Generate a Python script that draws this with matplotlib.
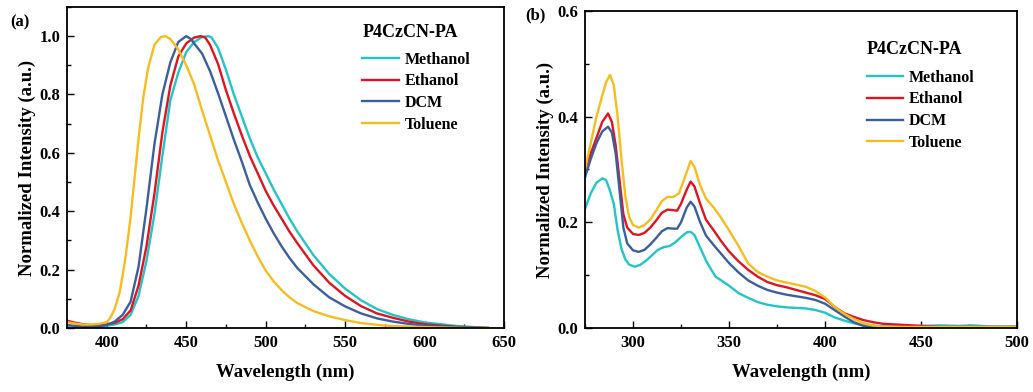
import numpy as np
import matplotlib
matplotlib.use("Agg")
from matplotlib import pyplot as plt
from matplotlib.ticker import MultipleLocator, FormatStrFormatter

plt.rcParams['font.family'] = ['Liberation Serif', 'DejaVu Serif']
plt.rcParams['font.weight'] = 'bold'

solvents = ['Methanol', 'Ethanol', 'DCM', 'Toluene']
colors = ['#22C4C8', '#E0141E', '#3B5E9E', '#F7BD1E']

# (a) photoluminescence
pl_methanol_x = [375, 385, 395, 400, 405, 410, 415, 420, 425, 430, 435, 440, 445, 450, 455, 460, 464, 466,
                 470, 475, 480, 485, 490, 495, 500, 505, 510, 515, 520, 530, 540, 550, 560, 570, 580, 590,
                 600, 620, 640]
pl_methanol_y = [0.005, 0.003, 0.004, 0.008, 0.012, 0.02, 0.045, 0.11, 0.23, 0.39, 0.59, 0.78, 0.875, 0.945,
                 0.98, 0.997, 1.0, 0.995, 0.96, 0.885, 0.80, 0.725, 0.65, 0.585, 0.53, 0.475, 0.425, 0.375,
                 0.33, 0.25, 0.185, 0.135, 0.095, 0.065, 0.045, 0.03, 0.019, 0.007, 0.0]

pl_ethanol_x = [375, 380, 385, 390, 395, 400, 405, 410, 415, 420, 425, 430, 435, 440, 445, 450, 455, 459,
                462, 465, 470, 475, 480, 485, 490, 495, 500, 505, 510, 515, 520, 530, 540, 550, 560, 570,
                580, 590, 600, 620, 640]
pl_ethanol_y = [0.025, 0.018, 0.013, 0.01, 0.01, 0.012, 0.018, 0.03, 0.06, 0.145, 0.28, 0.46, 0.67, 0.83,
                0.93, 0.975, 0.995, 1.0, 0.995, 0.97, 0.905, 0.815, 0.735, 0.66, 0.59, 0.53, 0.47, 0.42,
                0.375, 0.33, 0.29, 0.215, 0.155, 0.11, 0.075, 0.05, 0.035, 0.022, 0.013, 0.004, 0.0]

pl_dcm_x = [375, 385, 395, 400, 405, 410, 415, 420, 425, 430, 435, 440, 445, 450, 453, 455, 460, 465, 470,
            475, 480, 485, 490, 495, 500, 505, 510, 515, 520, 530, 540, 550, 560, 570, 580, 590, 600, 620,
            640]
pl_dcm_y = [0.01, 0.005, 0.006, 0.01, 0.022, 0.045, 0.09, 0.21, 0.41, 0.63, 0.80, 0.91, 0.98, 1.0, 0.99,
            0.975, 0.94, 0.88, 0.805, 0.725, 0.645, 0.57, 0.49, 0.43, 0.375, 0.325, 0.28, 0.24, 0.205,
            0.15, 0.105, 0.074, 0.05, 0.033, 0.022, 0.014, 0.008, 0.003, 0.0]

pl_toluene_x = [375, 380, 385, 390, 395, 400, 402, 405, 408, 410, 412, 415, 418, 420, 423, 426, 430, 434,
                437, 440, 445, 450, 455, 460, 465, 470, 475, 480, 485, 490, 495, 500, 505, 510, 515, 520,
                530, 540, 550, 560, 575, 600, 625, 640]
pl_toluene_y = [0.02, 0.015, 0.012, 0.012, 0.014, 0.02, 0.033, 0.065, 0.12, 0.18, 0.25, 0.38, 0.54, 0.65,
                0.79, 0.89, 0.97, 0.997, 1.0, 0.99, 0.955, 0.90, 0.835, 0.745, 0.66, 0.575, 0.50, 0.425,
                0.36, 0.30, 0.245, 0.197, 0.16, 0.13, 0.105, 0.085, 0.058, 0.04, 0.027, 0.017, 0.008,
                0.003, 0.0, 0.0]

# (b) absorption
abs_methanol_x = [275, 278, 281, 284, 286, 288, 290, 292, 294, 296, 298, 301, 304, 307, 310, 313, 316, 319,
                  322, 325, 328, 330, 332, 335, 338, 340, 343, 346, 350, 355, 360, 365, 370, 375, 380, 385,
                  390, 395, 400, 405, 410, 415, 420, 425, 430, 440, 450, 460, 470, 477, 485, 500]
abs_methanol_y = [0.225, 0.255, 0.275, 0.283, 0.28, 0.26, 0.235, 0.185, 0.15, 0.13, 0.12, 0.116, 0.12,
                  0.128, 0.138, 0.148, 0.153, 0.155, 0.162, 0.172, 0.181, 0.182, 0.176, 0.152, 0.128, 0.115,
                  0.097, 0.09, 0.08, 0.066, 0.057, 0.049, 0.044, 0.041, 0.039, 0.038, 0.037, 0.034, 0.029,
                  0.02, 0.014, 0.009, 0.005, 0.003, 0.003, 0.003, 0.004, 0.005, 0.004, 0.005, 0.003, 0.003]

abs_ethanol_x = [275, 278, 281, 284, 287, 289, 291, 293, 295, 297, 300, 303, 306, 309, 312, 315, 318, 321,
                 323, 325, 328, 330, 332, 335, 338, 342, 346, 350, 355, 360, 365, 370, 375, 380, 385, 390,
                 395, 400, 405, 410, 415, 420, 425, 430, 440, 450, 460, 500]
abs_ethanol_y = [0.30, 0.33, 0.36, 0.39, 0.406, 0.39, 0.345, 0.28, 0.215, 0.19, 0.178, 0.176, 0.18, 0.19,
                 0.203, 0.218, 0.224, 0.223, 0.222, 0.235, 0.262, 0.277, 0.268, 0.235, 0.205, 0.185, 0.164,
                 0.145, 0.126, 0.11, 0.097, 0.087, 0.081, 0.077, 0.072, 0.067, 0.062, 0.055, 0.04, 0.028,
                 0.021, 0.015, 0.011, 0.008, 0.006, 0.004, 0.002, 0.002]

abs_dcm_x = [275, 278, 281, 284, 287, 289, 291, 293, 295, 297, 300, 303, 306, 309, 312, 315, 318, 321, 323,
             325, 328, 330, 332, 335, 338, 342, 346, 350, 355, 360, 365, 370, 375, 380, 385, 390, 395, 400,
             405, 410, 415, 420, 425, 500]
abs_dcm_y = [0.285, 0.32, 0.35, 0.372, 0.381, 0.37, 0.33, 0.26, 0.19, 0.16, 0.147, 0.144, 0.148, 0.158,
             0.17, 0.183, 0.189, 0.188, 0.188, 0.2, 0.228, 0.239, 0.23, 0.2, 0.175, 0.157, 0.14, 0.123,
             0.105, 0.09, 0.08, 0.072, 0.067, 0.063, 0.06, 0.057, 0.053, 0.046, 0.034, 0.022, 0.011, 0.004,
             0.0, 0.0]

abs_toluene_x = [275, 278, 281, 284, 286, 288, 290, 292, 294, 296, 298, 300, 303, 306, 309, 312, 315, 318,
                 321, 324, 327, 330, 332, 335, 338, 342, 346, 350, 355, 360, 365, 370, 375, 380, 385, 390,
                 395, 400, 405, 410, 415, 420, 425, 430, 450, 475, 500]
abs_toluene_y = [0.30, 0.35, 0.40, 0.44, 0.465, 0.479, 0.46, 0.40, 0.32, 0.25, 0.21, 0.195, 0.19, 0.195,
                 0.205, 0.222, 0.24, 0.248, 0.248, 0.255, 0.285, 0.316, 0.305, 0.27, 0.245, 0.228, 0.208,
                 0.185, 0.155, 0.122, 0.106, 0.097, 0.09, 0.086, 0.082, 0.078, 0.07, 0.058, 0.04, 0.027,
                 0.017, 0.009, 0.005, 0.002, 0.002, 0.002, 0.002]

pl_data = [(pl_methanol_x, pl_methanol_y), (pl_ethanol_x, pl_ethanol_y),
           (pl_dcm_x, pl_dcm_y), (pl_toluene_x, pl_toluene_y)]
abs_data = [(abs_methanol_x, abs_methanol_y), (abs_ethanol_x, abs_ethanol_y),
            (abs_dcm_x, abs_dcm_y), (abs_toluene_x, abs_toluene_y)]

fig = plt.figure(figsize=(10.33, 3.92), dpi=100)
ax1 = fig.add_axes([0.0649, 0.1633, 0.4230, 0.8190])
ax2 = fig.add_axes([0.5663, 0.1633, 0.4182, 0.8087])


def style(ax, xlim, ylim, xmaj, xmin, ymaj, ymin):
    ax.set_xlim(*xlim)
    ax.set_ylim(*ylim)
    ax.xaxis.set_major_locator(MultipleLocator(xmaj))
    ax.xaxis.set_minor_locator(MultipleLocator(xmin))
    ax.yaxis.set_major_locator(MultipleLocator(ymaj))
    ax.yaxis.set_minor_locator(MultipleLocator(ymin))
    ax.yaxis.set_major_formatter(FormatStrFormatter('%.1f'))
    ax.tick_params(which='both', direction='in', top=False, right=False, width=1.0)
    ax.tick_params(which='major', length=5, labelsize=12, pad=5)
    ax.tick_params(which='minor', length=3)
    for s in ax.spines.values():
        s.set_linewidth(1.3)
    ax.set_xlabel('Wavelength (nm)', fontsize=13.5, fontweight='bold', labelpad=9)
    ax.set_ylabel('Normalized Intensity (a.u.)', fontsize=13.5, fontweight='bold', labelpad=2)
    for lab in ax.get_xticklabels() + ax.get_yticklabels():
        lab.set_fontweight('bold')


def legend_block(ax, x0, y_title, y_top):
    ax.text(x0, y_title, 'P4CzCN-PA', transform=ax.transAxes, fontsize=13, fontweight='bold',
            ha='left', va='center')
    ax.legend(loc='upper left', bbox_to_anchor=(x0 - 0.016, y_top), frameon=False,
              handlelength=2.3, handletextpad=0.35, labelspacing=0.36, borderaxespad=0,
              prop={'size': 11.5, 'weight': 'bold'})


for ax, data in [(ax1, pl_data), (ax2, abs_data)]:
    for (x, y), name, c in zip(data, solvents, colors):
        ax.plot(x, y, color=c, lw=1.7, label=name)

style(ax1, (375, 650), (0, 1.1), 50, 25, 0.2, 0.1)
style(ax2, (275, 500), (0, 0.6), 50, 25, 0.2, 0.1)

legend_block(ax1, 0.677, 0.919, 0.881)
legend_block(ax2, 0.653, 0.880, 0.835)

fig.text(0.0097, 0.944, '(a)', fontsize=12, fontweight='bold', va='center')
fig.text(0.508, 0.962, '(b)', fontsize=12, fontweight='bold', va='center')

fig.savefig('out.png', dpi=100)
